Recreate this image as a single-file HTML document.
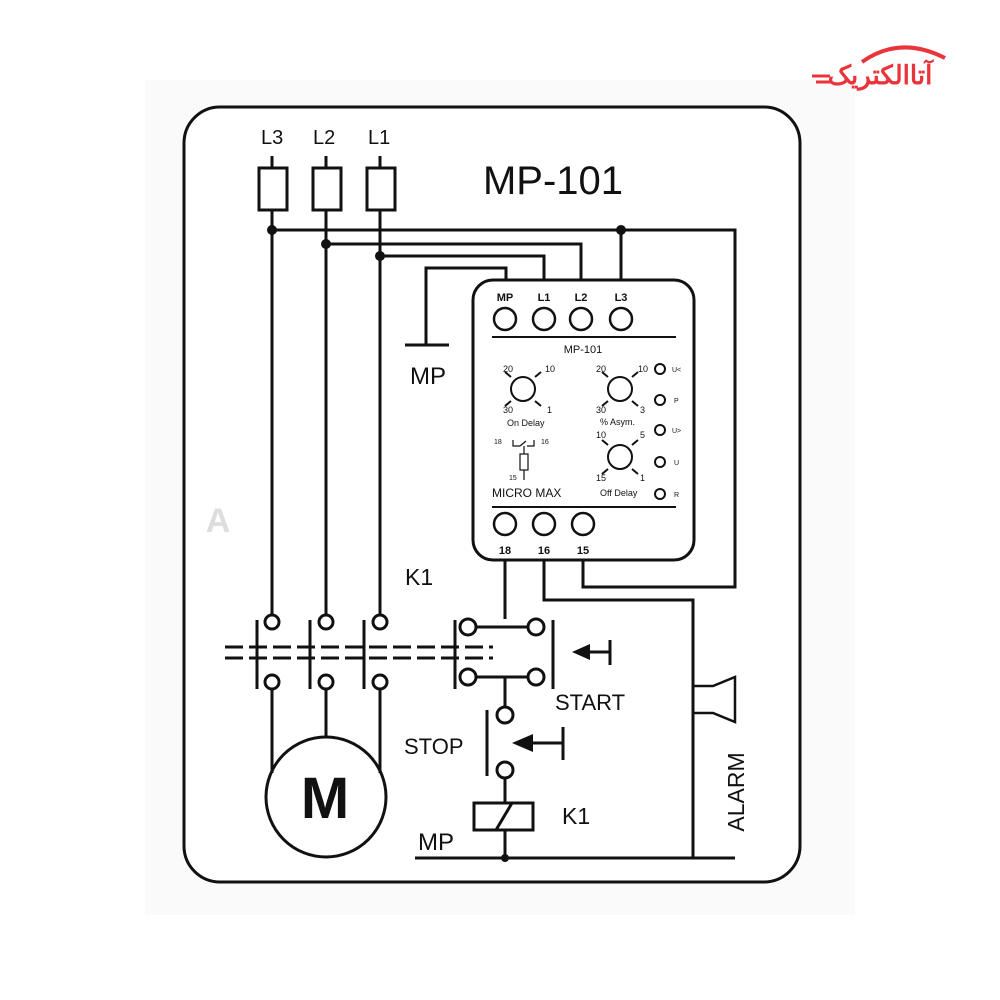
<!DOCTYPE html>
<html><head><meta charset="utf-8"><style>
html,body{margin:0;padding:0;background:#fff}
svg{display:block}
text{font-family:"Liberation Sans",sans-serif;fill:#111}
</style></head><body>
<svg width="1000" height="1000" viewBox="0 0 1000 1000" xmlns="http://www.w3.org/2000/svg">
<rect x="145" y="80" width="710" height="835" fill="#fafafa"/>
<rect x="184" y="107" width="616" height="775" rx="36" fill="#fff" stroke="#111" stroke-width="3"/>
<!-- logo -->
<path d="M862 62 Q900 35 945 58" fill="none" stroke="#e8343a" stroke-width="4"/>
<text x="880" y="84" font-size="26" font-weight="bold" text-anchor="middle" style="fill:#e8343a;font-family:'Liberation Sans','Noto Sans CJK SC',sans-serif">آتاالکتریک</text>
<g stroke="#e8343a" stroke-width="3"><line x1="812" y1="76" x2="830" y2="76"/><line x1="816" y1="82" x2="830" y2="82"/></g>
<!-- watermark -->
<text x="218" y="532" font-size="34" font-weight="bold" text-anchor="middle" style="fill:#ddd">A</text>

<g fill="none" stroke="#111" stroke-width="3">
<!-- fuses -->
<line x1="272" y1="156" x2="272" y2="168"/><line x1="326" y1="156" x2="326" y2="168"/><line x1="380" y1="156" x2="380" y2="168"/>
<rect x="259" y="168" width="28" height="42"/><rect x="313" y="168" width="28" height="42"/><rect x="367" y="168" width="28" height="42"/>
<line x1="272" y1="210" x2="272" y2="614"/><line x1="326" y1="210" x2="326" y2="614"/><line x1="380" y1="210" x2="380" y2="614"/>
<!-- buses -->
<polyline points="272,230 735,230 735,587 583,587 583,560"/>
<line x1="621" y1="230" x2="621" y2="280"/>
<polyline points="326,244 581,244 581,280"/>
<polyline points="380,256 544,256 544,280"/>
<polyline points="426,345 426,268 506,268 506,280"/>
<line x1="405" y1="345" x2="449" y2="345"/>
<!-- module -->
<rect x="473" y="280" width="221" height="280" rx="20"/>
<line x1="505" y1="560" x2="505" y2="619"/>
<polyline points="544,560 544,600 693,600 693,858"/>
</g>
<g fill="none" stroke="#111" stroke-width="2.5">
<circle cx="505" cy="319" r="11"/><circle cx="544" cy="319" r="11"/><circle cx="581" cy="319" r="11"/><circle cx="621" cy="319" r="11"/>
<circle cx="505" cy="524" r="11"/><circle cx="544" cy="524" r="11"/><circle cx="583" cy="524" r="11"/>
<line x1="492" y1="337" x2="676" y2="337" stroke-width="2"/>
<line x1="492" y1="507" x2="676" y2="507" stroke-width="2"/>
<g stroke-width="2">
<circle cx="523" cy="389" r="12"/><path d="M511 377l-6-5M535 377l6-5M511 401l-6 5M535 401l6 5"/>
<circle cx="620" cy="389" r="12"/><path d="M608 377l-6-5M632 377l6-5M608 401l-6 5M632 401l6 5"/>
<circle cx="620" cy="457" r="12"/><path d="M608 445l-6-5M632 445l6-5M608 469l-6 5M632 469l6 5"/>
<circle cx="660" cy="369" r="5"/><circle cx="660" cy="400" r="5"/><circle cx="660" cy="430" r="5"/><circle cx="660" cy="462" r="5"/><circle cx="660" cy="494" r="5"/>
</g>
<path d="M513 440v6h7M527 446h7v-6M520 446l6-5M524 446v8M524 470v10" stroke-width="1.2"/>
<rect x="520" y="454" width="8" height="16" stroke-width="1.2"/>
</g>
<g font-size="11" font-weight="bold"><text x="505" y="301" text-anchor="middle">MP</text><text x="544" y="301" text-anchor="middle">L1</text><text x="581" y="301" text-anchor="middle">L2</text><text x="621" y="301" text-anchor="middle">L3</text>
<text x="505" y="554" text-anchor="middle">18</text><text x="544" y="554" text-anchor="middle">16</text><text x="583" y="554" text-anchor="middle">15</text></g>
<g font-size="9" fill="#333"><text x="583" y="353" text-anchor="middle" font-size="11">MP-101</text>
<text x="503" y="372">20</text><text x="545" y="372">10</text><text x="503" y="413">30</text><text x="547" y="413">1</text><text x="507" y="426">On Delay</text>
<text x="596" y="372">20</text><text x="638" y="372">10</text><text x="596" y="413">30</text><text x="640" y="413">3</text><text x="600" y="425">% Asym.</text>
<text x="596" y="438">10</text><text x="640" y="438">5</text><text x="596" y="481">15</text><text x="640" y="481">1</text><text x="600" y="496">Off Delay</text>
<text x="494" y="444" font-size="7">18</text><text x="541" y="444" font-size="7">16</text><text x="509" y="480" font-size="7">15</text>
<text x="672" y="372" font-size="7">U&lt;</text><text x="674" y="403" font-size="7">P</text><text x="672" y="433" font-size="7">U&gt;</text><text x="674" y="465" font-size="7">U</text><text x="674" y="497" font-size="7">R</text>
<text x="492" y="497" font-size="12" fill="#111">MICRO MAX</text></g>
<!-- dots -->
<g fill="#111"><circle cx="272" cy="230" r="5"/><circle cx="621" cy="230" r="5"/><circle cx="326" cy="244" r="5"/><circle cx="380" cy="256" r="5"/><circle cx="505" cy="858" r="4"/></g>
<!-- contacts -->
<g fill="none" stroke="#111" stroke-width="3">
<circle cx="272" cy="622" r="7"/><circle cx="326" cy="622" r="7"/><circle cx="380" cy="622" r="7"/>
<circle cx="272" cy="682" r="7"/><circle cx="326" cy="682" r="7"/><circle cx="380" cy="682" r="7"/>
<line x1="257" y1="620" x2="257" y2="689"/><line x1="310" y1="620" x2="310" y2="689"/><line x1="364" y1="620" x2="364" y2="689"/><line x1="455" y1="620" x2="455" y2="689"/><line x1="553" y1="620" x2="553" y2="689"/>
<line x1="225" y1="647" x2="493" y2="647" stroke-dasharray="18,6"/><line x1="225" y1="658" x2="493" y2="658" stroke-dasharray="18,6"/>
<line x1="476" y1="627" x2="528" y2="627"/><line x1="476" y1="677" x2="528" y2="677"/>
<circle cx="468" cy="627" r="8"/><circle cx="536" cy="627" r="8"/><circle cx="468" cy="677" r="8"/><circle cx="536" cy="677" r="8"/>
<line x1="505" y1="677" x2="505" y2="706"/>
<circle cx="505" cy="715" r="8"/><circle cx="505" cy="770" r="8"/>
<line x1="487" y1="710" x2="487" y2="776"/>
<line x1="505" y1="778" x2="505" y2="803"/>
<rect x="474" y="803" width="59" height="27"/><line x1="496" y1="830" x2="512" y2="803"/>
<line x1="505" y1="830" x2="505" y2="858"/>
<line x1="415" y1="858" x2="735" y2="858"/>
<line x1="588" y1="652" x2="610" y2="652"/><line x1="610" y1="640" x2="610" y2="665"/>
<line x1="530" y1="743" x2="563" y2="743"/><line x1="563" y1="727" x2="563" y2="760"/>
<line x1="272" y1="689" x2="272" y2="773"/><line x1="326" y1="689" x2="326" y2="738"/><line x1="380" y1="689" x2="380" y2="773"/>
<circle cx="326" cy="797" r="60"/>
<polyline points="693,686 713,686 735,677 735,722 713,713 693,713" stroke-width="2.5"/>
</g>
<polygon points="572,652 590,644 590,660" fill="#111"/>
<polygon points="512,743 533,734 533,752" fill="#111"/>
<g font-size="20"><text x="261" y="144">L3</text><text x="313" y="144">L2</text><text x="368" y="144">L1</text>
<text x="553" y="194" font-size="40" text-anchor="middle">MP-101</text>
<text x="410" y="384" font-size="24">MP</text>
<text x="405" y="585" font-size="23">K1</text>
<text x="555" y="710" font-size="22">START</text>
<text x="404" y="754" font-size="22">STOP</text>
<text x="562" y="824" font-size="23">K1</text>
<text x="418" y="850" font-size="24">MP</text>
<text x="325" y="818" font-size="58" font-weight="bold" text-anchor="middle">M</text>
<text transform="translate(744,792) rotate(-90)" font-size="23" text-anchor="middle">ALARM</text></g>
</svg>
</body></html>
